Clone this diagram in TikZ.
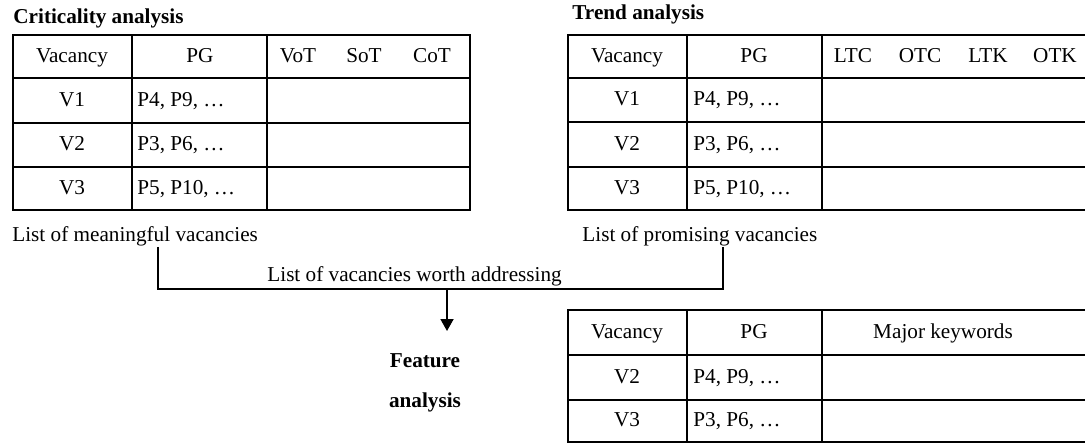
\documentclass[tikz,border=0pt]{standalone}
\usepackage{fontspec}
\setmainfont{Liberation Serif}
\usetikzlibrary{arrows.meta}

\tikzset{
  tab/.style={line width=1.4pt},
  conn/.style={line width=0.6pt},
  cell/.style={inner sep=0pt, text height=1.5ex, text depth=.3ex},
  ttl/.style={inner sep=0pt, font=\fontsize{10.6}{12.6}\selectfont\bfseries}
}

\begin{document}
\begin{tikzpicture}[x=0.5pt,y=-0.5pt,font=\fontsize{10.6}{12.6}\selectfont]
	\useasboundingbox (0,0) rectangle (1085,443);
	\clip (0,0) rectangle (1085,443);

	%criticality analysis table (left)
	\node[ttl, anchor=west] (crit) at (13,18) {Criticality analysis};
	\draw[tab] (13,35) rectangle (470,210);
	\foreach \y in {78,123,167} \draw[tab] (13,\y) -- (470,\y);
	\foreach \x in {132,267} \draw[tab] (\x,35) -- (\x,210);
	\node[cell] (cvac) at (72,56.5) {Vacancy};
	\node[cell] (cpg) at (200,56.5) {PG};
	\node[cell] (cvot) at (298,56.5) {VoT};
	\node[cell] (csot) at (364,56.5) {SoT};
	\node[cell] (ccot) at (432,56.5) {CoT};
	\foreach \i/\y/\p in {1/100.5/{P4, P9, …}, 2/145/{P3, P6, …}, 3/188.5/{P5, P10, …}} {
		\node[cell] (cv\i) at (72,\y) {V\i};
		\node[cell, anchor=west] (cp\i) at (137,\y) {\p};
	}
	\node[inner sep=0pt, anchor=base west] (meaningful) at (12,242) {List of meaningful vacancies};

	%trend analysis table (right)
	\node[ttl, anchor=west] (trend) at (572,14) {Trend analysis};
	\draw[tab] (568,35) rectangle (1095,210);
	\foreach \y in {78,122,167} \draw[tab] (568,\y) -- (1095,\y);
	\foreach \x in {687,822} \draw[tab] (\x,35) -- (\x,210);
	\node[cell] (tvac) at (627,56.5) {Vacancy};
	\node[cell] (tpg) at (754,56.5) {PG};
	\node[cell] (tltc) at (853,56.5) {LTC};
	\node[cell] (totc) at (920,56.5) {OTC};
	\node[cell] (tltk) at (988,56.5) {LTK};
	\node[cell] (totk) at (1055,56.5) {OTK};
	\foreach \i/\y/\p in {1/100/{P4, P9, …}, 2/144.5/{P3, P6, …}, 3/188.5/{P5, P10, …}} {
		\node[cell] (tv\i) at (627,\y) {V\i};
		\node[cell, anchor=west] (tp\i) at (693,\y) {\p};
	}
	\node[inner sep=0pt, anchor=base west] (promising) at (582,242) {List of promising vacancies};

	%merging the two lists
	\coordinate (jl) at (158,289);
	\coordinate (jr) at (723,289);
	\coordinate (jm) at (447,289);
	\coordinate (tip) at (447,331);
	\draw[conn] (meaningful.south -| jl) -- (jl) -- (jr) -- (promising.south -| jr);
	\node[inner sep=0pt, anchor=base west] (worth) at (267,281) {List of vacancies worth addressing};
	\draw[conn, line width=0.9pt, -{Triangle[width=6.5pt,length=6pt]}] (jm) -- (tip);

	%feature analysis table (bottom)
	\node[ttl, anchor=base] (feat) at (425,367) {Feature};
	\node[ttl, anchor=base] (featb) at (425,407) {analysis};
	\draw[tab] (568,310) rectangle (1095,442);
	\foreach \y in {355,400} \draw[tab] (568,\y) -- (1095,\y);
	\foreach \x in {687,822} \draw[tab] (\x,310) -- (\x,442);
	\node[cell] (fvac) at (627,332.5) {Vacancy};
	\node[cell] (fpg) at (754,332.5) {PG};
	\node[cell] (fkey) at (943,332.5) {Major keywords};
	\node[cell] (fv2) at (627,377.5) {V2};
	\node[cell, anchor=west] (fp2) at (693,377.5) {P4, P9, …};
	\node[cell] (fv3) at (627,421) {V3};
	\node[cell, anchor=west] (fp3) at (693,421) {P3, P6, …};
\end{tikzpicture}
\end{document}
